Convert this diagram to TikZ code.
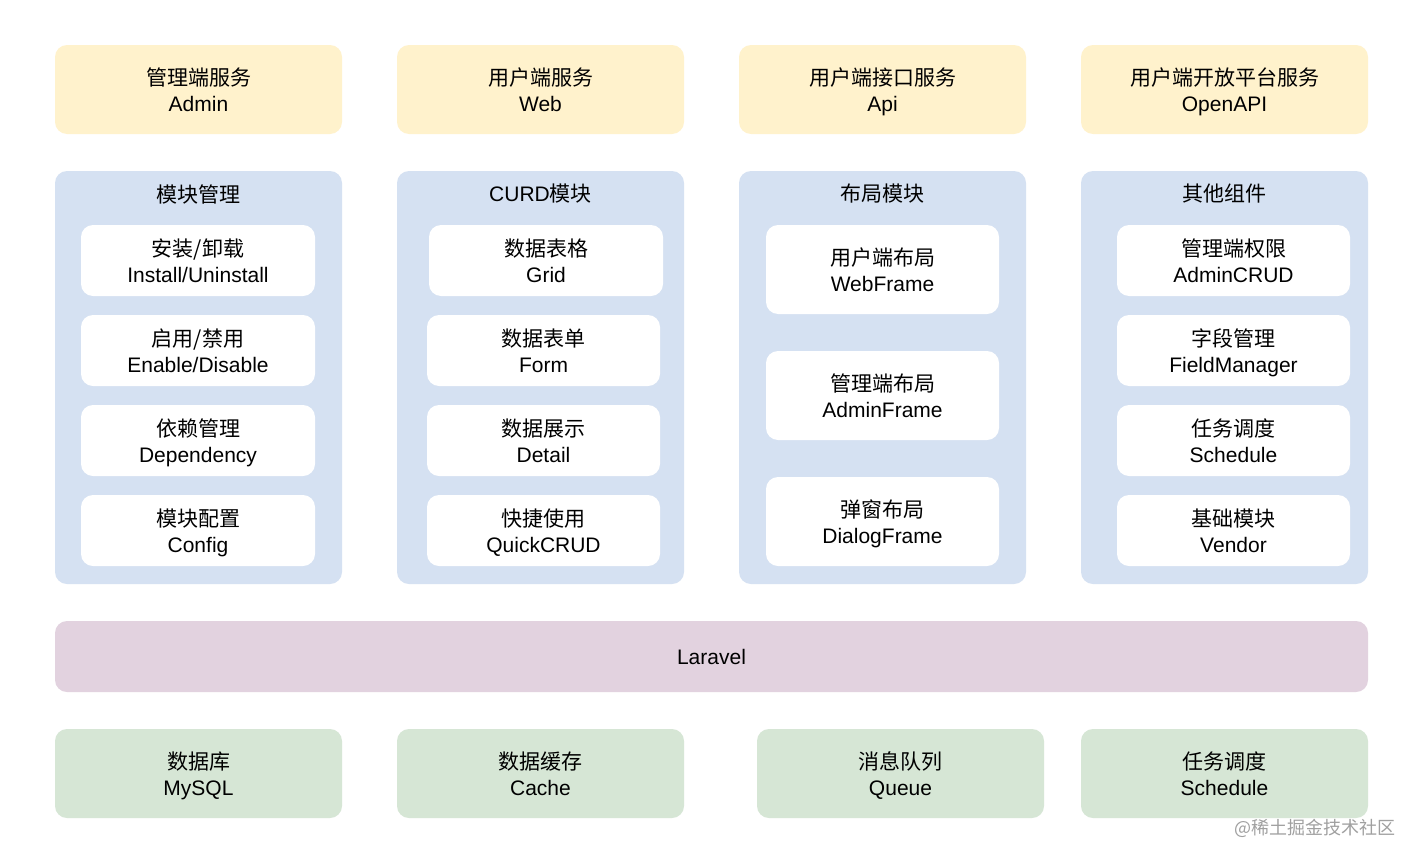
\documentclass[tikz,border=0pt]{standalone}
\usepackage{fontspec}
\setmainfont{Liberation Sans}
\newfontfamily\cjk{Noto Sans CJK SC}
\definecolor{ylw}{HTML}{FFF2CC}
\definecolor{blu}{HTML}{D5E1F2}
\definecolor{pur}{HTML}{E2D2DF}
\definecolor{grn}{HTML}{D6E6D5}
\definecolor{wm}{HTML}{A0A0A0}
\newcommand\twol[2]{\rule{0pt}{10.85pt}{\cjk #1}\\#2\rule[-2.15pt]{0pt}{9.1pt}}
\begin{document}
\begin{tikzpicture}[x=0.5pt,y=-0.5pt,
  box/.style={rounded corners=6pt,align=center,inner sep=0pt,font=\fontsize{10.5pt}{13pt}\selectfont,text=black},
  ybox/.style={box,fill=ylw,minimum width=143.5pt,minimum height=44.5pt},
  gbox/.style={box,fill=grn,minimum width=143.5pt,minimum height=44.5pt},
  cont/.style={rounded corners=6pt,fill=blu},
  wbox/.style={box,fill=white,minimum width=117pt,minimum height=35.5pt},
  tbox/.style={box,fill=white,minimum width=116.5pt,minimum height=44.5pt},
  ttl/.style={font=\fontsize{10.5pt}{13pt}\selectfont,inner sep=0pt}]
\useasboundingbox (0,0) rectangle (1418,862);
\fill[white] (0,0) rectangle (1418,862);
% top services
\node[ybox] (admin) at (198.5,89.5) {\twol{管理端服务}{Admin}};
\node[ybox] (web) at (540.5,89.5) {\twol{用户端服务}{Web}};
\node[ybox] (api) at (882.5,89.5) {\twol{用户端接口服务}{Api}};
\node[ybox] (openapi) at (1224.5,89.5) {\twol{用户端开放平台服务}{OpenAPI}};
% containers
\fill[cont] (55,171) rectangle (342,584);
\fill[cont] (397,171) rectangle (684,584);
\fill[cont] (739,171) rectangle (1026,584);
\fill[cont] (1081,171) rectangle (1368,584);
\node[ttl] (t1) at (198.5,194) {\cjk 模块管理};
\node[ttl] (t2) at (540.5,194) {CURD{\cjk 模块}};
\node[ttl] (t3) at (882.5,194) {\cjk 布局模块};
\node[ttl] (t4) at (1224.5,194) {\cjk 其他组件};
% column 1
\node[wbox] (install) at (198,260.5) {\twol{安装/卸载}{Install/Uninstall}};
\node[wbox] (enable) at (198,350.5) {\twol{启用/禁用}{Enable/Disable}};
\node[wbox] (dep) at (198,440.5) {\twol{依赖管理}{Dependency}};
\node[wbox] (config) at (198,530.5) {\twol{模块配置}{Config}};
% column 2
\node[wbox] (grid) at (546,260.5) {\twol{数据表格}{Grid}};
\node[wbox,minimum width=116.5pt] (form) at (543.5,350.5) {\twol{数据表单}{Form}};
\node[wbox,minimum width=116.5pt] (detail) at (543.5,440.5) {\twol{数据展示}{Detail}};
\node[wbox,minimum width=116.5pt] (quick) at (543.5,530.5) {\twol{快捷使用}{QuickCRUD}};
% column 3
\node[tbox] (webframe) at (882.5,269.5) {\twol{用户端布局}{WebFrame}};
\node[tbox] (adminframe) at (882.5,395.5) {\twol{管理端布局}{AdminFrame}};
\node[tbox] (dialog) at (882.5,521.5) {\twol{弹窗布局}{DialogFrame}};
% column 4
\node[wbox,minimum width=116.5pt] (acrud) at (1233.5,260.5) {\twol{管理端权限}{AdminCRUD}};
\node[wbox,minimum width=116.5pt] (field) at (1233.5,350.5) {\twol{字段管理}{FieldManager}};
\node[wbox,minimum width=116.5pt] (sched) at (1233.5,440.5) {\twol{任务调度}{Schedule}};
\node[wbox,minimum width=116.5pt] (vendor) at (1233.5,530.5) {\twol{基础模块}{Vendor}};
% laravel
\node[box,fill=pur,minimum width=656.5pt,minimum height=35.5pt] (laravel) at (711.5,656.5) {Laravel};
% bottom
\node[gbox] (mysql) at (198.5,773.5) {\twol{数据库}{MySQL}};
\node[gbox] (cache) at (540.5,773.5) {\twol{数据缓存}{Cache}};
\node[gbox] (queue) at (900.5,773.5) {\twol{消息队列}{Queue}};
\node[gbox] (bsched) at (1224.5,773.5) {\twol{任务调度}{Schedule}};
% watermark
\node[inner sep=0pt,text=wm,font=\fontsize{9pt}{10pt}\selectfont] (wmk) at (1315,828) {{\cjk @稀土掘金技术社区}};
\end{tikzpicture}
\end{document}
